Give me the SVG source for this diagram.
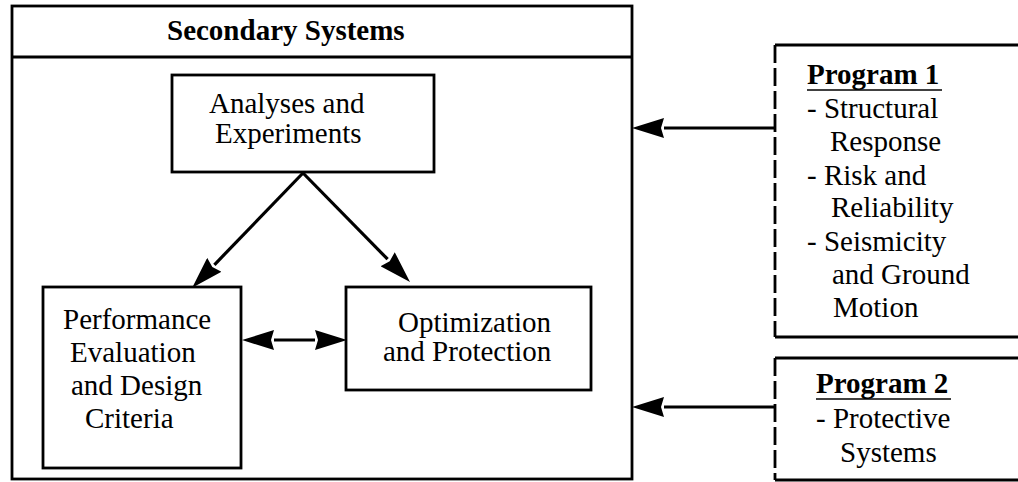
<svg xmlns="http://www.w3.org/2000/svg" width="1018" height="482" viewBox="0 0 1018 482">
<style>
  .box { fill: none; stroke: #000; stroke-width: 2.8; }
  .solid { fill: none; stroke: #000; stroke-width: 2.8; }
  .dash { fill: none; stroke: #000; stroke-width: 2.8; stroke-dasharray: 18 5; }
  .conn { fill: none; stroke: #000; stroke-width: 3.2; }
  .t { font-family: 'Liberation Serif', Tinos, 'Times New Roman', 'DejaVu Serif', 'Noto Serif', serif; font-size: 29px; fill: #000; }
  .b { font-weight: bold; }
  .u { stroke: #000; stroke-width: 1.6; }
</style>
<defs>
  <marker id="ah" viewBox="0 -10 32 20" refX="0" refY="0" markerWidth="32" markerHeight="20" markerUnits="userSpaceOnUse" orient="auto-start-reverse">
    <path d="M0,-10 L32,0 L0,10 L3,0 z" fill="#000"/>
  </marker>
</defs>
<rect width="1018" height="482" fill="#fff"/>

<g id="secondary-systems">
  <rect class="box" x="12" y="6" width="620" height="473"/>
  <line class="solid" x1="12" y1="57" x2="632" y2="57"/>
  <text class="t b" x="167" y="40">Secondary Systems</text>
</g>

<g id="analyses">
  <rect class="box" x="172" y="75" width="262" height="97"/>
  <text class="t" x="209" y="113">Analyses and</text>
  <text class="t" x="215" y="143">Experiments</text>
</g>

<g id="performance">
  <rect class="box" x="43" y="287" width="198" height="181"/>
  <text class="t" x="63" y="329">Performance</text>
  <text class="t" x="70" y="362">Evaluation</text>
  <text class="t" x="71" y="395">and Design</text>
  <text class="t" x="85" y="428">Criteria</text>
</g>

<g id="optimization">
  <rect class="box" x="346" y="287" width="245" height="103"/>
  <text class="t" x="398" y="332">Optimization</text>
  <text class="t" x="383" y="361">and Protection</text>
</g>

<g id="program1">
  <line class="solid" x1="775" y1="45" x2="1020" y2="45"/>
  <line class="solid" x1="775" y1="337" x2="1020" y2="337"/>
  <line class="dash" x1="775" y1="45" x2="775" y2="337"/>
  <text class="t b" x="807" y="84">Program 1</text>
  <line class="u" x1="807" y1="90" x2="942" y2="90"/>
  <text class="t" x="807" y="118">- Structural</text>
  <text class="t" x="830" y="151">Response</text>
  <text class="t" x="807" y="185">- Risk and</text>
  <text class="t" x="831" y="217">Reliability</text>
  <text class="t" x="807" y="251">- Seismicity</text>
  <text class="t" x="832" y="284">and Ground</text>
  <text class="t" x="833" y="317">Motion</text>
</g>

<g id="program2">
  <line class="solid" x1="775" y1="358" x2="1020" y2="358"/>
  <line class="solid" x1="775" y1="480" x2="1020" y2="480"/>
  <line class="dash" x1="775" y1="358" x2="775" y2="480"/>
  <text class="t b" x="816" y="393">Program 2</text>
  <line class="u" x1="816" y1="399" x2="951" y2="399"/>
  <text class="t" x="816" y="428">- Protective</text>
  <text class="t" x="840" y="462">Systems</text>
</g>

<g id="connectors">
  <line class="conn" x1="303" y1="173" x2="214.4" y2="264.8" marker-end="url(#ah)"/>
  <line class="conn" x1="303" y1="173" x2="387.6" y2="259.2" marker-end="url(#ah)"/>
  <line class="conn" x1="274" y1="340" x2="315" y2="340" marker-start="url(#ah)" marker-end="url(#ah)"/>
  <line class="conn" x1="775" y1="128" x2="664" y2="128" marker-end="url(#ah)"/>
  <line class="conn" x1="775" y1="407" x2="664" y2="407" marker-end="url(#ah)"/>
</g>
</svg>
